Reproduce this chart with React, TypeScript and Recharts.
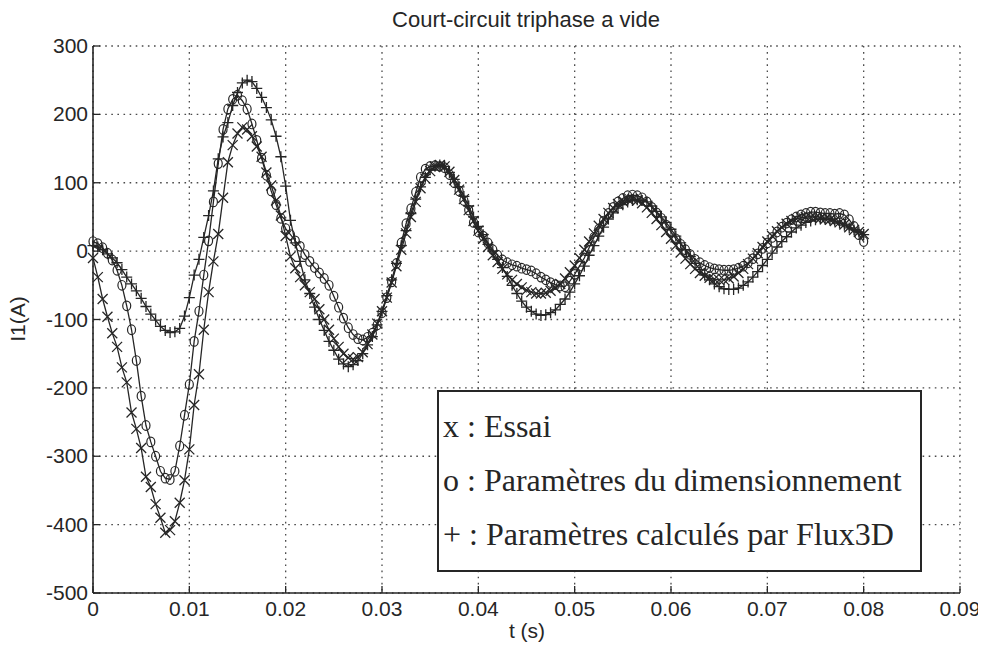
import React from "react";
import { LineChart, Line, XAxis, YAxis, CartesianGrid } from "recharts";

// sampling step of the recorded currents (s)
const sampleStep = 0.0005;

// x : Essai
const essai = [
  -10, -38, -70, -96, -120, -140, -170, -192, -236, -260,
  -288, -330, -345, -370, -390, -412, -408, -395, -368, -335,
  -290, -225, -180, -115, -60, -15, 25, 78, 130, 155,
  172, 181, 178, 168, 153, 138, 115, 96, 74, 52,
  22, -8, -25, -38, -50, -60, -70, -85, -100, -115,
  -128, -140, -150, -156, -158, -155, -148, -136, -122, -106,
  -88, -68, -46, -22, 2, 26, 50, 72, 92, 106,
  117, 123, 126, 124, 116, 104, 90, 76, 60, 44,
  30, 18, 6, -6, -16, -26, -34, -42, -48, -53,
  -57, -60, -62, -62, -61, -58, -54, -48, -40, -31,
  -21, -10, 2, 14, 26, 37, 47, 56, 63, 69,
  73, 76, 76, 74, 70, 64, 56, 47, 38, 28,
  18, 8, -2, -11, -19, -26, -32, -36, -39, -41,
  -42, -42, -40, -37, -32, -26, -19, -11, -3, 6,
  14, 22, 29, 35, 40, 44, 47, 49, 50, 50,
  49, 48, 47, 46, 44, 42, 39, 35, 31, 28,
  25,
];

// o : Paramètres du dimensionnement
const dimensionnement = [
  14, 11, 5, -3, -13, -28, -50, -80, -115, -160,
  -212, -255, -279, -300, -322, -332, -334, -322, -285, -240,
  -195, -132, -88, -35, 15, 72, 128, 178, 208, 222,
  228, 220, 208, 186, 162, 136, 111, 88, 68, 48,
  33, 24, 15, 7, -5, -15, -24, -32, -40, -50,
  -66, -82, -98, -112, -122, -128, -130, -126, -120, -108,
  -90, -68, -45, -18, 12, 40, 62, 86, 108, 120,
  124, 125, 124, 122, 112, 100, 88, 74, 60, 42,
  28, 22, 12, 2, -6, -13, -17, -20, -22, -25,
  -27, -29, -33, -38, -42, -46, -49, -51, -52, -44,
  -34, -22, -10, 5, 20, 32, 44, 55, 64, 72,
  77, 81, 82, 81, 78, 72, 64, 56, 48, 38,
  28, 18, 10, 2, -5, -12, -17, -21, -24, -26,
  -27, -28, -28, -27, -25, -22, -17, -11, -4, 4,
  12, 20, 28, 35, 41, 46, 50, 53, 55, 57,
  57, 56, 55, 55, 54, 55, 53, 46, 36, 24,
  14,
];

// + : Paramètres calculés par Flux3D
const flux3d = [
  8, 6, 2, -4, -10, -17, -27, -38, -48, -58,
  -69, -81, -92, -101, -110, -116, -119, -118, -113, -95,
  -68, -35, -12, 20, 52, 88, 135, 167, 188, 213,
  232, 246, 250, 248, 238, 225, 210, 192, 168, 138,
  95, 45, 12, -15, -42, -62, -82, -100, -116, -132,
  -145, -158, -165, -169, -166, -160, -150, -137, -125, -108,
  -88, -65, -42, -18, 8, 30, 55, 76, 94, 108,
  119, 124, 126, 124, 115, 105, 94, 80, 66, 50,
  36, 24, 10, 0, -12, -24, -37, -50, -62, -73,
  -82, -88, -92, -94, -93, -90, -86, -78, -70, -60,
  -48, -36, -22, -6, 8, 22, 35, 47, 56, 63,
  68, 72, 74, 75, 74, 72, 66, 58, 50, 42,
  32, 22, 12, 2, -8, -18, -27, -35, -42, -48,
  -52, -55, -56, -56, -54, -50, -45, -38, -30, -21,
  -12, -3, 6, 14, 21, 28, 34, 38, 42, 44,
  46, 47, 47, 46, 44, 41, 38, 34, 31, 28,
  24,
];

const xTicks = [0, 0.01, 0.02, 0.03, 0.04, 0.05, 0.06, 0.07, 0.08, 0.09];
const yTicks = [-500, -400, -300, -200, -100, 0, 100, 200, 300];

const legendLines = [
  "x : Essai",
  "o : Paramètres du dimensionnement",
  "+ : Paramètres calculés par Flux3D",
];

const data = essai.map((v, i) => ({
  t: +(i * sampleStep).toFixed(4),
  essai: v,
  dim: dimensionnement[i],
  flux: flux3d[i],
}));

const ink = "#262626";
const sans = "'Liberation Sans', Arial, Helvetica, sans-serif";
const serif = "'Liberation Serif', 'Times New Roman', serif";
const W = 978;
const H = 640;

const fmtX = (v: number) => (v === 0 ? "0" : v.toFixed(2));

const BottomTick = (p: any) => (
  <g>
    <line x1={p.x} y1={p.y} x2={p.x} y2={p.y - 7} stroke={ink} strokeWidth={1.3} />
    <text x={p.x} y={p.y + 23} textAnchor="middle" fontSize={21} fontFamily={sans} fill={ink}>
      {fmtX(p.payload.value)}
    </text>
  </g>
);
const TopTick = (p: any) => (
  <line x1={p.x} y1={p.y} x2={p.x} y2={p.y + 7} stroke={ink} strokeWidth={1.3} />
);
const LeftTick = (p: any) => (
  <g>
    <line x1={p.x} y1={p.y} x2={p.x + 7} y2={p.y} stroke={ink} strokeWidth={1.3} />
    <text x={p.x - 5} y={p.y + 7} textAnchor="end" fontSize={21} fontFamily={sans} fill={ink}>
      {String(p.payload.value)}
    </text>
  </g>
);
const RightTick = (p: any) => (
  <line x1={p.x} y1={p.y} x2={p.x - 7} y2={p.y} stroke={ink} strokeWidth={1.3} />
);

const CrossDot = (p: any) => {
  const s = 5;
  return (
    <path
      key={`x-${p.index}`}
      d={`M${p.cx - s},${p.cy - s}L${p.cx + s},${p.cy + s}M${p.cx - s},${p.cy + s}L${p.cx + s},${p.cy - s}`}
      stroke={ink}
      strokeWidth={1.3}
      fill="none"
    />
  );
};
const CircleDot = (p: any) => (
  <ellipse key={`o-${p.index}`} cx={p.cx} cy={p.cy} rx={4} ry={4.8} stroke={ink} strokeWidth={1.2} fill="none" />
);
const PlusDot = (p: any) => {
  const s = 5.5;
  return (
    <path
      key={`p-${p.index}`}
      d={`M${p.cx - s},${p.cy}L${p.cx + s},${p.cy}M${p.cx},${p.cy - s}L${p.cx},${p.cy + s}`}
      stroke={ink}
      strokeWidth={1.3}
      fill="none"
    />
  );
};

export default function App() {
  return (
    <div style={{ position: "relative", width: W, height: H }}>
      <LineChart width={W} height={H} data={data} margin={{ top: 38, right: 26, bottom: 0, left: 0 }}>
        <CartesianGrid stroke="#4a4a4a" strokeDasharray="1.6 4.5" strokeWidth={1.3} />
        <XAxis
          dataKey="t"
          type="number"
          domain={[0, 0.09]}
          ticks={xTicks}
          interval={0}
          height={55}
          tickSize={0}
          tickMargin={0}
          tickLine={false}
          tick={BottomTick}
          axisLine={{ stroke: ink, strokeWidth: 1.6 }}
        />
        <XAxis
          xAxisId="top"
          orientation="top"
          dataKey="t"
          type="number"
          domain={[0, 0.09]}
          ticks={xTicks}
          interval={0}
          height={0}
          tickSize={0}
          tickMargin={0}
          tickLine={false}
          tick={TopTick}
          axisLine={{ stroke: ink, strokeWidth: 1.6 }}
        />
        <YAxis
          type="number"
          domain={[-500, 300]}
          ticks={yTicks}
          interval={0}
          width={85}
          tickSize={0}
          tickMargin={0}
          tickLine={false}
          tick={LeftTick}
          axisLine={{ stroke: ink, strokeWidth: 1.6 }}
        />
        <YAxis
          yAxisId="right"
          orientation="right"
          type="number"
          domain={[-500, 300]}
          ticks={yTicks}
          interval={0}
          width={0}
          tickSize={0}
          tickMargin={0}
          tickLine={false}
          tick={RightTick}
          axisLine={{ stroke: ink, strokeWidth: 1.6 }}
        />
        <Line dataKey="essai" stroke={ink} strokeWidth={1.3} dot={CrossDot} isAnimationActive={false} />
        <Line dataKey="dim" stroke={ink} strokeWidth={1.3} dot={CircleDot} isAnimationActive={false} />
        <Line dataKey="flux" stroke={ink} strokeWidth={1.3} dot={PlusDot} isAnimationActive={false} />
      </LineChart>
      <svg
        width={986}
        height={648}
        style={{ position: "absolute", left: -8, top: -8, pointerEvents: "none", overflow: "visible" }}
      >
        <text x={526} y={27} textAnchor="middle" fontSize={22} fontFamily={sans} fill={ink}>
          Court-circuit triphase a vide
        </text>
        <text x={527} y={638} textAnchor="middle" fontSize={21} fontFamily={sans} fill={ink}>
          t (s)
        </text>
        <text transform="translate(25,319) rotate(-90)" textAnchor="middle" fontSize={21} fontFamily={sans} fill={ink}>
          I1(A)
        </text>
        <rect x={438} y={391} width={483} height={180} fill="#fff" stroke={ink} strokeWidth={2} />
        {legendLines.map((s, i) => (
          <text key={s} x={443} y={437 + i * 54} fontSize={32} fontFamily={serif} fill={ink}>
            {s}
          </text>
        ))}
      </svg>
    </div>
  );
}
